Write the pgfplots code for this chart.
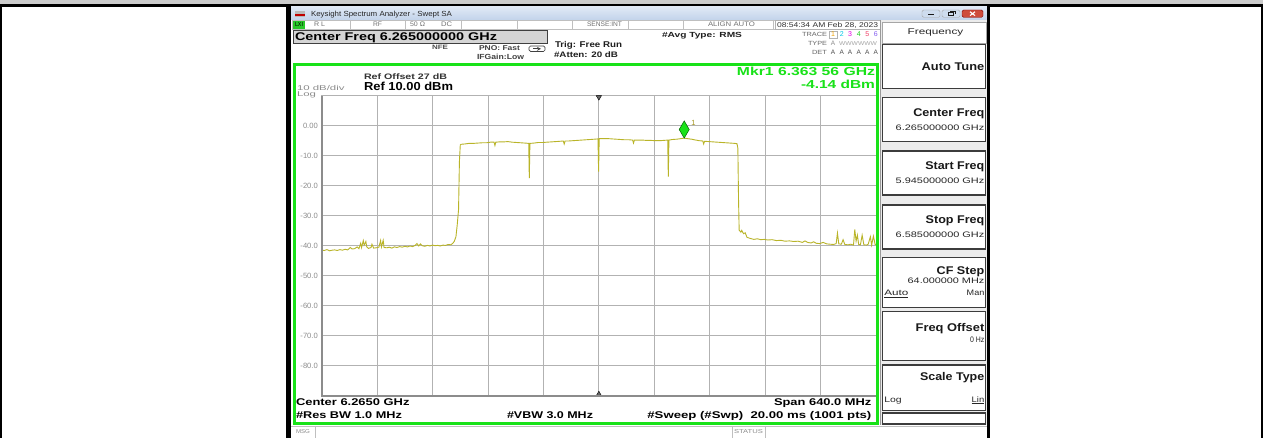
\documentclass[border=0pt]{standalone}
\usepackage{graphicx}
\usepackage{pgfplots}
\pgfplotsset{compat=1.18}
\usepackage{fontspec}
\setmainfont{Liberation Sans}
\definecolor{trace}{RGB}{185,180,40}
\definecolor{mkgreen}{RGB}{24,226,24}
\definecolor{gridc}{RGB}{178,178,178}
\definecolor{tickc}{RGB}{140,140,140}
\definecolor{stat}{RGB}{115,115,115}
\definecolor{btnb}{RGB}{60,60,60}
\definecolor{panelbg}{RGB}{236,236,236}
\definecolor{tbtop}{RGB}{224,233,246}
\definecolor{tbbot}{RGB}{194,211,234}
\definecolor{closec}{RGB}{206,76,60}
\definecolor{lxi}{RGB}{40,200,40}
\definecolor{tra}{RGB}{240,160,0}
\definecolor{trb}{RGB}{0,200,230}
\definecolor{trc}{RGB}{225,0,225}
\definecolor{trd}{RGB}{30,210,30}
\definecolor{tre}{RGB}{240,60,100}
\definecolor{trf}{RGB}{130,90,240}
\definecolor{mklab}{RGB}{165,150,30}
% text of given width and cap height
\newcommand{\T}[3]{\resizebox{#1pt}{#2pt}{\rule{0pt}{7.16pt}\smash{#3}}}
\tikzset{L/.style={anchor=west,inner sep=0pt,outer sep=0pt},
 R/.style={anchor=east,inner sep=0pt,outer sep=0pt},
 C/.style={anchor=center,inner sep=0pt,outer sep=0pt},
 btn/.style={draw=btnb,line width=1.3pt,fill=white}}
\begin{document}
\begin{tikzpicture}
\useasboundingbox (0,0) rectangle (1263pt,438pt);
\begin{scope}[x=1pt,y=-1pt,yshift=438pt]
% page
\fill[white] (0,0) rectangle (1263,438);
\fill[gray!40] (0,0) rectangle (1263,4.3);
\fill[black] (0,4.3) rectangle (1263,6.8);
\fill[black] (0,4) rectangle (1.6,438);
\fill[black] (1260.8,4) rectangle (1262.5,438);
% window
\fill[white] (291,7) rectangle (987,438);
\shade[top color=tbtop,bottom color=tbbot] (291,6.8) rectangle (987,20);
\fill[black] (285.5,4.3) rectangle (291,438);
\fill[black] (987,4.3) rectangle (990,438);
% title
\fill[gray!55] (295,11) rectangle (305,17.5);
\fill[red!75!black] (295,14) rectangle (305,15.6);
\node[L,text=black!85] at (311,14) {\T{141}{5.3}{Keysight Spectrum Analyzer - Swept SA}};
\draw[gray!70,fill=tbbot!80!white,rounded corners=1.5pt] (922,10) rectangle (940,17.3);
\draw[gray!70,fill=tbbot!80!white,rounded corners=1.5pt] (942,10) rectangle (960,17.3);
\draw[red!50!black,fill=closec,rounded corners=1.5pt] (962,10) rectangle (983,17.3);
\draw[gray!20!black,line width=1pt] (928,15) -- (934,15);
\draw[gray!20!black,line width=0.7pt] (948,12.3) rectangle (953,15.6) (950,11.6) -- (955,11.6) -- (955,14.3);
\draw[white,line width=1.1pt] (970,11.8) -- (975,15.6) (975,11.8) -- (970,15.6);
% status row
\draw[gray!50,fill=white] (292,20) rectangle (880,29.3);
\foreach \xx in {350,405,461,517,572,628,683,773} \draw[gray!50] (\xx,20) -- (\xx,29.3);
\fill[lxi] (293,21) rectangle (305,28.6);
\node[C,text=black] at (299,24.8) {\T{8}{4.3}{LXI}};
\node[L,text=stat] at (314,24.6) {\T{11}{4.7}{R L}};
\node[L,text=stat] at (373,24.6) {\T{9}{4.7}{RF}};
\node[L,text=stat] at (410,24.6) {\T{15}{4.7}{50 Ω}};
\node[L,text=stat] at (441,24.6) {\T{11}{4.7}{DC}};
\node[L,text=stat] at (587,24.6) {\T{35}{4.7}{SENSE:INT}};
\node[L,text=stat] at (708,24.6) {\T{47}{4.7}{ALIGN AUTO}};
\draw[gray!60,fill=white] (775,20) rectangle (880,29.3);
\node[L,text=black!80] at (777,24.6) {\T{101}{5}{08:54:34 AM Feb 28, 2023}};
% info row
\draw[black!75,fill=gray!33,line width=0.8pt] (293,30.3) rectangle (547,43);
\node[L,text=black] at (295,36.7) {\T{202}{8}{\bfseries Center Freq 6.265000000 GHz}};
\node[L,text=black!70] at (432,47.7) {\T{16}{4.5}{\bfseries NFE}};
\node[L,text=black!75] at (479,47.7) {\T{41}{5}{\bfseries PNO: Fast}};
\node[L,text=black!75] at (477,56.7) {\T{47}{5.3}{\bfseries IFGain:Low}};
\draw[black!75,line width=0.7pt,rounded corners=1.5pt] (529,46) rectangle (545,51.5);
\draw[black!75,line width=0.8pt,->,>=stealth] (533,48.8) -- (541,48.8);
\node[L,text=black!88] at (555,44.7) {\T{67}{6}{\bfseries Trig: Free Run}};
\node[L,text=black!88] at (554,54.3) {\T{64}{5.7}{\bfseries \#Atten: 20 dB}};
\node[L,text=black!88] at (662,34.7) {\T{80}{5.3}{\bfseries \#Avg Type: RMS}};
\node[L,text=black!60] at (802,34.3) {\T{25}{4.3}{TRACE}};
\node[L,text=black!60] at (808,43.7) {\T{19}{4.3}{TYPE}};
\node[L,text=black!60] at (812,52.3) {\T{15}{4.3}{DET}};
\draw[gray!60] (829,30.8) rectangle (837.5,38.3);
\node[C,text=tra] at (833,34.5) {\fontsize{7}{7}\selectfont 1};
\node[C,text=trb] at (841.7,34.5) {\fontsize{7}{7}\selectfont 2};
\node[C,text=trc] at (850,34.5) {\fontsize{7}{7}\selectfont 3};
\node[C,text=trd] at (858.7,34.5) {\fontsize{7}{7}\selectfont 4};
\node[C,text=tre] at (867.3,34.5) {\fontsize{7}{7}\selectfont 5};
\node[C,text=trf] at (875.7,34.5) {\fontsize{7}{7}\selectfont 6};
\node[C,text=black!45] at (833,43.7) {\fontsize{6.5}{6.5}\selectfont A};
\node[L,text=black!35] at (839,43.7) {\T{38}{4}{WWWWWW}};
\foreach \xx in {833,841.7,850,858.7,867.3,875.7} \node[C,text=black!70] at (\xx,52.4) {\fontsize{6.5}{6.5}\selectfont A};
% softkey panel
\fill[panelbg] (880,20) rectangle (987,425);
\draw[gray!80,line width=1pt] (880.5,20) -- (880.5,425);
\draw[gray!70,fill=white] (882.3,22) rectangle (985.7,43);
\node[L,text=black!85] at (907.7,31.5) {\T{55.6}{6}{Frequency}};
\draw[btn] (882.3,44.3) rectangle (985.7,88.3);
\draw[btn] (882.3,97.7) rectangle (985.7,141.7);
\draw[btn] (882.3,151) rectangle (985.7,195);
\draw[btn] (882.3,205) rectangle (985.7,249);
\draw[btn] (882.3,257.3) rectangle (985.7,307.3);
\draw[btn] (882.3,311.7) rectangle (985.7,360.7);
\draw[btn] (882.3,365) rectangle (985.7,410.7);
\draw[btn] (882.3,413) rectangle (985.7,424);
\node[R,text=black!90] at (984.3,66.7) {\T{62.6}{8}{\bfseries Auto Tune}};
\node[R,text=black!90] at (984.3,112.7) {\T{71}{8}{\bfseries Center Freq}};
\node[R,text=black!85] at (984.3,127.7) {\T{88.6}{5.7}{6.265000000 GHz}};
\node[R,text=black!90] at (984.3,165.7) {\T{59}{8}{\bfseries Start Freq}};
\node[R,text=black!85] at (984.3,181) {\T{88.6}{5.7}{5.945000000 GHz}};
\node[R,text=black!90] at (984.3,220) {\T{58.6}{8}{\bfseries Stop Freq}};
\node[R,text=black!85] at (984.3,235) {\T{88.6}{5.7}{6.585000000 GHz}};
\node[R,text=black!90] at (984.3,270.7) {\T{47.6}{8}{\bfseries CF Step}};
\node[R,text=black!85] at (984.3,280.5) {\T{76.6}{5.7}{64.000000 MHz}};
\node[L,text=black!85] at (884.3,292.7) {\T{24}{5.7}{\underline{Auto}}};
\node[R,text=black!85] at (984.3,292.7) {\T{17.6}{5.7}{Man}};
\node[R,text=black!90] at (984.3,327.3) {\T{68.6}{8}{\bfseries Freq Offset}};
\node[R,text=black!85] at (984.3,340) {\T{14.3}{5.7}{0 Hz}};
\node[R,text=black!90] at (984.3,376.7) {\T{64.3}{8}{\bfseries Scale Type}};
\node[L,text=black!85] at (884.3,399.3) {\T{17.4}{5.7}{Log}};
\node[R,text=black!85] at (984.3,399.3) {\T{12.6}{5.7}{\underline{Lin}}};
% msg bar
\fill[white] (291,425.5) rectangle (987,438);
\draw[gray!50] (291,426) -- (987,426);
\draw[gray!50] (315,426) -- (315,438) (732.5,426) -- (732.5,438) (765.6,426) -- (765.6,438);
\node[L,text=black!45] at (296,432) {\T{14}{4}{MSG}};
\node[L,text=black!45] at (734,432) {\T{29}{4}{STATUS}};
\end{scope}

\begin{axis}[
  at={(321.7pt,42.3pt)}, anchor=south west,
  scale only axis, width=554.3pt, height=300pt,
  xmin=5945, xmax=6585, ymin=-90, ymax=10,
  xtick={5945,6009,6073,6137,6201,6265,6329,6393,6457,6521,6585},
  xticklabels={},
  ytick={-90,-80,-70,-60,-50,-40,-30,-20,-10,0,10},
  yticklabels={,-80.0,-70.0,-60.0,-50.0,-40.0,-30.0,-20.0,-10.0,0.00,},
  grid=major, major grid style={gridc, line width=0.9pt},
  major tick length=0pt,
  axis line style={draw=gridc, line width=0.9pt},
  yticklabel style={font=\fontsize{7.6}{7.6}\selectfont, text=tickc, inner sep=0pt, xshift=-3.7pt},
  clip=false,
]
\addplot[trace, line width=0.9pt] coordinates {
(5945,-41.5)(5948,-41.6)(5951,-41.3)(5954,-41.7)(5957,-41.5)(5960,-41.4)(5963,-41.6)(5966,-41.3)(5969,-41.5)(5972,-41.2)(5975,-41.4)(5978,-40.6)(5980,-41.1)(5983,-41.0)(5986,-40.4)(5988,-41.0)(5990,-39.2)(5991,-40.6)(5993,-38.3)(5994,-39.8)(5996,-38.6)(5997,-40.4)(5999,-40.9)(6002,-40.6)(6003,-39.5)(6005,-40.8)(6008,-40.7)(6011,-40.5)(6013,-38.3)(6014,-40.4)(6016,-38.2)(6017,-40.6)(6020,-40.7)(6023,-40.5)(6026,-40.8)(6029,-40.4)(6032,-40.6)(6035,-40.3)(6038,-40.5)(6041,-40.2)(6044,-40.4)(6047,-40.1)(6050,-40.3)(6053,-39.9)(6055,-39.3)(6057,-40.1)(6059,-39.4)(6061,-40.0)(6064,-40.2)(6067,-39.9)(6070,-40.1)(6073,-39.8)(6076,-40.0)(6079,-39.9)(6082,-40.1)(6085,-39.8)(6088,-39.9)(6091,-39.6)(6094,-39.7)(6096,-39.3)(6098,-38.6)(6100,-37.0)(6101.5,-33.0)(6103,-28)(6104,-12)(6105,-6.4)
(6106,-6.2)(6110,-6.1)(6115,-5.9)(6120,-5.9)(6125,-5.8)(6130,-5.7)(6135,-5.7)(6140,-5.5)(6144,-5.5)(6145,-6.6)(6146,-5.5)(6150,-5.4)(6155,-5.4)(6160,-5.3)(6165,-5.5)(6170,-5.6)(6175,-5.7)(6180,-5.8)(6184,-5.9)(6184.7,-17.5)(6185.4,-5.9)(6190,-5.8)(6195,-5.6)(6200,-5.6)(6205,-5.5)(6210,-5.4)(6215,-5.3)(6220,-5.2)(6224,-5.1)(6225,-6.1)(6226,-5.1)(6230,-5.1)(6235,-5.0)(6240,-4.9)(6245,-4.8)(6250,-4.7)(6255,-4.6)(6260,-4.5)(6264,-4.4)(6264.7,-15.3)(6265.4,-4.3)(6270,-4.3)(6275,-4.3)(6280,-4.4)(6285,-4.5)(6290,-4.6)(6295,-4.7)(6300,-4.7)(6304,-4.8)(6305,-5.8)(6306,-4.8)(6310,-4.8)(6315,-4.8)(6320,-4.9)(6325,-4.9)(6330,-5.0)(6335,-5.0)(6340,-4.9)(6344.5,-4.8)(6345.2,-17.0)(6345.9,-4.8)(6350,-4.6)(6355,-4.5)(6360,-4.3)(6363.56,-4.14)(6367,-4.3)(6372,-4.5)(6377,-4.8)(6381,-5.0)(6385,-5.1)(6386,-6.1)(6387,-5.2)(6392,-5.3)(6397,-5.4)(6402,-5.5)(6407,-5.6)(6412,-5.7)(6417,-5.8)(6422,-5.9)(6424.5,-6.0)(6425.5,-7.5)(6426.3,-25)(6427,-34.8)
(6429,-35.5)(6430,-34.9)(6432,-36.0)(6434,-35.7)(6436,-37.2)(6440,-37.6)(6444,-37.9)(6448,-37.7)(6452,-38.0)(6456,-37.9)(6460,-38.1)(6465,-38.0)(6470,-38.3)(6475,-38.2)(6480,-38.5)(6485,-38.4)(6490,-38.6)(6495,-38.5)(6500,-38.9)(6503,-38.4)(6506,-38.9)(6510,-39.1)(6513,-38.7)(6516,-39.2)(6520,-39.3)(6524,-38.9)(6528,-39.4)(6532,-39.5)(6536,-39.6)(6539,-39.3)(6540.5,-35.8)(6542,-39.4)(6545,-39.5)(6547,-38.0)(6549,-39.6)(6553,-39.7)(6556,-39.5)(6559,-39.8)(6560.5,-34.6)(6562,-38.5)(6563.5,-36.5)(6565,-39.6)(6567,-39.7)(6569,-36.5)(6571,-39.7)(6574,-39.8)(6576,-39.5)(6578.5,-37.0)(6580,-39.8)(6582,-36.8)(6584,-39.6)(6585,-39.7)
};
\addplot[only marks, mark=triangle*, mark size=3pt, mark options={rotate=180, fill=black!60, draw=none, yshift=1.5pt}] coordinates {(6265,10)};
\addplot[only marks, mark=triangle*, mark size=3pt, mark options={fill=black!60, draw=none, yshift=1.5pt}] coordinates {(6265,-90)};
\addplot[only marks, mark=diamond*, mark size=8.6pt, mark options={fill=mkgreen, draw=green!40!black, line width=0.5pt, xscale=0.78, yshift=8.6pt}] coordinates {(6363.56,-4.14)};
\node[text=mklab, font=\fontsize{7.5}{7.5}\selectfont, inner sep=0pt, xshift=9.3pt, yshift=14.8pt] at (axis cs:6363.56,-4.14) {1};
\end{axis}

\begin{scope}[x=1pt,y=-1pt,yshift=438pt]
\draw[black!45,line width=1.8pt] (321.7,95.7) -- (321.7,396.2) -- (876,396.2);
\draw[mkgreen,line width=2.6pt] (294.3,64.8) rectangle (877.6,423.6);
\node[L,text=black!80] at (364,76.2) {\T{83}{5.7}{\bfseries Ref Offset 27 dB}};
\node[L,text=black] at (364,86.5) {\T{89}{8.3}{\bfseries Ref 10.00 dBm}};
\node[L,text=tickc] at (297,87.6) {\T{47.5}{5}{10 dB/div}};
\node[L,text=tickc] at (297,94.2) {\T{19}{5}{Log}};
\node[R,text=mkgreen] at (875,71.5) {\T{138}{8.3}{\bfseries Mkr1 6.363 56 GHz}};
\node[R,text=mkgreen] at (875,84.2) {\T{74}{8.3}{\bfseries -4.14 dBm}};
\node[L,text=black] at (296,402.3) {\T{113.5}{7}{\bfseries Center 6.2650 GHz}};
\node[L,text=black] at (296,415) {\T{106}{7}{\bfseries \#Res BW 1.0 MHz}};
\node[L,text=black] at (507,415) {\T{86}{7}{\bfseries \#VBW 3.0 MHz}};
\node[R,text=black] at (871.4,402.3) {\T{97.4}{7}{\bfseries Span 640.0 MHz}};
\node[R,text=black] at (871.4,415) {\T{224}{7}{\bfseries \#Sweep (\#Swp)\ \ 20.00 ms (1001 pts)}};
\end{scope}
\end{tikzpicture}
\end{document}
